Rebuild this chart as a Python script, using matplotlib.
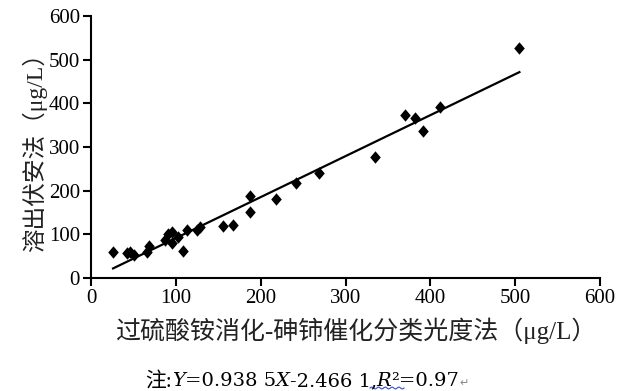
import matplotlib
matplotlib.use("Agg")
import matplotlib.pyplot as plt
import numpy as np
from matplotlib.offsetbox import TextArea, HPacker, AnnotationBbox

# data
x_vals = [26, 42, 46, 51, 66, 68, 87, 91, 95, 95, 103, 108, 113, 125, 128,
          156, 167, 187, 187, 218, 242, 269, 335, 370, 382, 391, 411, 505]
y_vals = [60, 57, 60, 53, 60, 73, 88, 100, 105, 80, 95, 62, 110, 110, 117,
          120, 121, 152, 187, 182, 218, 240, 278, 373, 366, 336, 392, 527]
slope = 0.9385
intercept = -2.4661
x_ticks = [0, 100, 200, 300, 400, 500, 600]
y_ticks = [0, 100, 200, 300, 400, 500, 600]
x_label = "过硫酸铵消化-砷铈催化分类光度法（μg/L）"
y_label = "溶出伏安法（μg/L）"

SERIF = ["Liberation Serif", "Noto Sans CJK SC", "DejaVu Sans"]
CJK = ["Liberation Serif", "Noto Sans CJK SC", "DejaVu Sans"]

fig = plt.figure(figsize=(6.19, 3.91), dpi=100)
ax = fig.add_axes([91/619, 1-278/391, (600-91)/619, (278-16)/391])

diamond = [(0, 1), (0.85, 0), (0, -1), (-0.85, 0), (0, 1)]
ax.scatter(x_vals, y_vals, marker=diamond, s=80, color="black", zorder=3, linewidths=0)

xs = np.array([min(x_vals), max(x_vals)])
ax.plot(xs, slope*xs + intercept, color="black", lw=1.6, zorder=2)

ax.set_xlim(0, 600)
ax.set_ylim(0, 600)
ax.set_xticks(x_ticks)
ax.set_yticks(y_ticks)
ax.set_xticklabels([str(t) for t in x_ticks], family=SERIF, fontsize=15)
ax.set_yticklabels([str(t) for t in y_ticks], family=SERIF, fontsize=15)
for s in ["top", "right"]:
    ax.spines[s].set_visible(False)
for s in ["left", "bottom"]:
    ax.spines[s].set_linewidth(1.5)
ax.tick_params(direction="out", length=6, width=1.5, pad=2, colors="black")

ax.set_xlabel(x_label, family=CJK, fontsize=18, color="#222222", labelpad=7)
ax.xaxis.set_label_coords((356-91)/509, -(318-278)/262)
ax.xaxis.label.set_va("top")
ax.set_ylabel(y_label, family=CJK, fontsize=17, color="#222222", labelpad=1)

# note line
NUM = ["DejaVu Serif"]
pieces = [
    ("注:", dict(family=CJK, fontsize=15, color="black")),
    ("Y", dict(family=NUM, style="italic", fontsize=14, color="black")),
    ("=0.938 5", dict(family=NUM, fontsize=14, color="black")),
    ("X", dict(family=NUM, style="italic", fontsize=14, color="black")),
    ("-2.466 1,", dict(family=NUM, fontsize=14, color="black")),
    ("R", dict(family=NUM, style="italic", fontsize=14, color="black")),
    ("²=0.97", dict(family=NUM, fontsize=14, color="black")),
    ("↵", dict(family=["DejaVu Sans"], fontsize=8, color="#888888")),
]
areas = [TextArea(t, textprops=p) for t, p in pieces]
box = HPacker(children=areas, align="baseline", pad=0, sep=0)
ab = AnnotationBbox(box, (145/619, 1-382/391), xycoords="figure fraction",
                    box_alignment=(0, 0.5), frameon=False)
fig.add_artist(ab)

# wavy spell-check underline
wx = np.linspace(370/619, 404/619, 30)
wy = 1 - 388/391 + 0.0025*np.sin(np.linspace(0, 10*np.pi, 30))
fig.add_artist(plt.Line2D(wx, wy, transform=fig.transFigure, color="#3050d0", lw=0.8))

fig.savefig("out.png", dpi=100)
